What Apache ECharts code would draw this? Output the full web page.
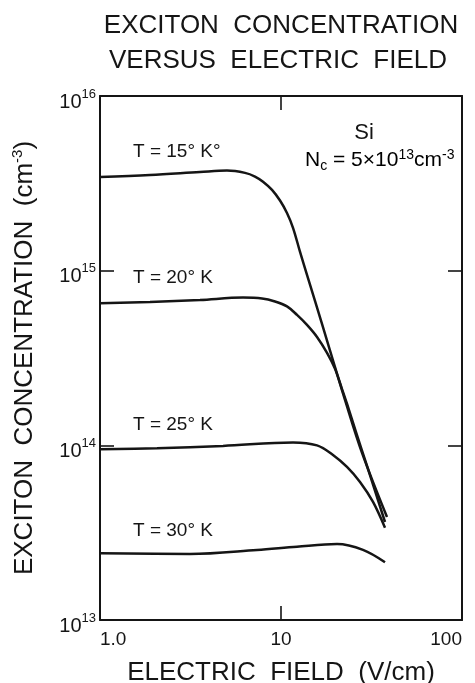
<!DOCTYPE html>
<html><head><meta charset="utf-8">
<script src="https://cdn.jsdelivr.net/npm/echarts@6/dist/echarts.min.js"></script>
<style>html,body{margin:0;padding:0;background:#fff}#c{width:475px;height:683px}</style>
</head><body><div id="c"></div>
<script>
// Electric field (V/cm) and exciton concentration (cm^-3) per temperature
const fieldT15 = [1.0, 1.889, 3.568, 5.031, 6.327, 7.185, 7.955, 8.92, 9.874, 10.79, 11.65, 12.74, 13.92, 15.41, 18.66, 22.57, 28.03, 38.51];
const concT15  = [3.44e15, 3.53e15, 3.67e15, 3.74e15, 3.63e15, 3.46e15, 3.23e15, 2.90e15, 2.52e15, 2.14e15, 1.76e15, 1.28e15, 9.45e14, 6.71e14, 3.49e14, 1.82e14, 9.05e13, 3.89e13];
const fieldT20 = [1.0, 1.889, 3.568, 6.168, 7.853, 9.267, 10.79, 12.26, 13.92, 15.81, 17.96, 19.88, 21.73, 23.15, 25.97, 29.87, 37.55];
const concT20  = [6.51e14, 6.62e14, 6.80e14, 7.01e14, 6.93e14, 6.66e14, 6.24e14, 5.58e14, 4.89e14, 4.17e14, 3.38e14, 2.74e14, 2.10e14, 1.73e14, 1.19e14, 7.62e13, 3.64e13];
const fieldT25 = [1.0, 2.065, 4.78, 11.65, 15.81, 19.38, 23.15, 27.32, 32.24, 37.55];
const concT25  = [9.50e13, 9.63e13, 9.92e13, 1.039e14, 9.99e13, 8.81e13, 7.52e13, 6.17e13, 4.74e13, 3.37e13];
const fieldT30 = [1.0, 3.142, 7.37, 12.26, 20.39, 28.38, 37.55];
const concT30  = [2.41e13, 2.39e13, 2.52e13, 2.63e13, 2.72e13, 2.52e13, 2.14e13];
const curveLabels = ['T = 15° K°', 'T = 20° K', 'T = 25° K', 'T = 30° K'];
const xRange = [1, 100];
const yRange = [1e13, 1e16];

const FONT = 'Liberation Sans';
const INK = '#151515';
const chart = echarts.init(document.getElementById('c'), null, {renderer: 'canvas'});

function pairs(xs, ys) { return xs.map((x, i) => [x, ys[i]]); }
function mkSeries(xs, ys, name) {
  return {
    type: 'line', name: name, data: pairs(xs, ys), xAxisIndex: 0, yAxisIndex: 0,
    showSymbol: false, smooth: 0.35,
    lineStyle: {color: INK, width: 2.5}, silent: true
  };
}
const axisLine = {show: true, lineStyle: {color: INK, width: 2}};
const tick = {show: true, inside: true, length: 14, lineStyle: {color: INK, width: 1.6}};

const option = {
  animation: false,
  grid: {left: 100, top: 96, right: 13, bottom: 63, containLabel: false, outerBoundsMode: 'none'},
  xAxis: [
    {type: 'log', logBase: 10, min: xRange[0], max: xRange[1], position: 'bottom',
     axisLine: axisLine, axisTick: tick, splitLine: {show: false}, minorTick: {show: false},
     axisLabel: {color: INK, fontFamily: FONT, fontSize: 19, margin: 10,
       alignMinLabel: 'left', alignMaxLabel: 'right',
       formatter: v => (v === 1 ? '1.0' : String(v))},
     name: 'ELECTRIC  FIELD  (V/cm)', nameLocation: 'middle', nameGap: 40,
     nameTextStyle: {color: INK, fontFamily: FONT, fontSize: 26}},
    {type: 'log', logBase: 10, min: xRange[0], max: xRange[1], position: 'top',
     axisLine: axisLine, axisTick: tick, axisLabel: {show: false}, splitLine: {show: false}}
  ],
  yAxis: [
    {type: 'log', logBase: 10, min: yRange[0], max: yRange[1], position: 'left',
     axisLine: axisLine, axisTick: tick, splitLine: {show: false},
     axisLabel: {margin: 4, formatter: v => '{b|10}{s|' + Math.round(Math.log10(v)) + '}',
       rich: {b: {fontFamily: FONT, fontSize: 20, color: INK, padding: [12, 0, 0, 0]},
              s: {fontFamily: FONT, fontSize: 13, color: INK, padding: [0, 0, 4, 0]}}},
     name: '{t|EXCITON  CONCENTRATION  (cm}{s|-3}{t|)}', nameLocation: 'middle', nameGap: 61, nameRotate: 90,
     nameTextStyle: {rich: {t: {fontFamily: FONT, fontSize: 26, color: INK},
                            s: {fontFamily: FONT, fontSize: 15, color: INK, padding: [0, 0, 14, 0]}}}},
    {type: 'log', logBase: 10, min: yRange[0], max: yRange[1], position: 'right',
     axisLine: axisLine, axisTick: tick, axisLabel: {show: false}, splitLine: {show: false}}
  ],
  series: [
    mkSeries(fieldT15, concT15, curveLabels[0]),
    mkSeries(fieldT20, concT20, curveLabels[1]),
    mkSeries(fieldT25, concT25, curveLabels[2]),
    mkSeries(fieldT30, concT30, curveLabels[3])
  ],
  graphic: [
    {type: 'text', style: {x: 281, y: 26, text: 'EXCITON  CONCENTRATION', fill: INK, font: '26px "' + FONT + '"', textAlign: 'center', textVerticalAlign: 'middle'}},
    {type: 'text', style: {x: 278, y: 61, text: 'VERSUS  ELECTRIC  FIELD', fill: INK, font: '26px "' + FONT + '"', textAlign: 'center', textVerticalAlign: 'middle'}},
    {type: 'text', style: {x: 133, y: 152, text: curveLabels[0], fill: INK, font: '19px "' + FONT + '"', textAlign: 'left', textVerticalAlign: 'middle'}},
    {type: 'text', style: {x: 133, y: 278, text: curveLabels[1], fill: INK, font: '19px "' + FONT + '"', textAlign: 'left', textVerticalAlign: 'middle'}},
    {type: 'text', style: {x: 133, y: 425, text: curveLabels[2], fill: INK, font: '19px "' + FONT + '"', textAlign: 'left', textVerticalAlign: 'middle'}},
    {type: 'text', style: {x: 133, y: 531, text: curveLabels[3], fill: INK, font: '19px "' + FONT + '"', textAlign: 'left', textVerticalAlign: 'middle'}},
    {type: 'text', style: {x: 364, y: 133, text: 'Si', fill: INK, font: '22px "' + FONT + '"', textAlign: 'center', textVerticalAlign: 'middle'}},
    {type: 'text', style: {x: 305, y: 160, text: '{t|N}{c|c}{t| = 5×10}{e|13}{t|cm}{e|-3}', textAlign: 'left', textVerticalAlign: 'middle',
      rich: {t: {fontFamily: FONT, fontSize: 21, color: INK},
             c: {fontFamily: FONT, fontSize: 14, color: INK, padding: [12, 0, 0, 0]},
             e: {fontFamily: FONT, fontSize: 14, color: INK, padding: [0, 0, 10, 0]}}}}
  ]
};
chart.setOption(option);
</script></body></html>
